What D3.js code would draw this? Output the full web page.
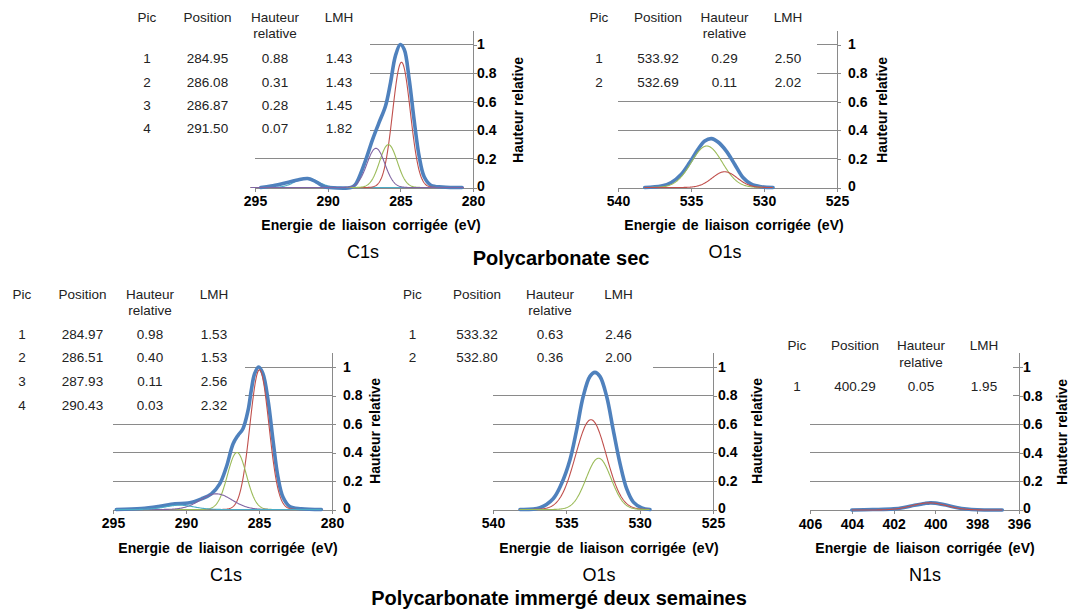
<!DOCTYPE html>
<html><head><meta charset="utf-8">
<script src="https://cdn.jsdelivr.net/npm/d3@7"></script>
<style>
body{margin:0;background:#fff}
svg{display:block}
text{font-family:"Liberation Sans",Arial,Helvetica,sans-serif}
</style>
</head><body>
<svg id="chart" width="1072" height="612"></svg>
<script>
// ---------------- DATA ----------------
const tableHeader = ["Pic", "Position", "Hauteur", "relative", "LMH"];
const yTickValues = [0, 0.2, 0.4, 0.6, 0.8, 1];
const xTicksC1s = [295, 290, 285, 280];
const xTicksO1s = [540, 535, 530, 525];
const xTicksN1s = [406, 404, 402, 400, 398, 396];
const axisTitle = "Energie de liaison  corrigée (eV)";
const yAxisTitle = "Hauteur relative";
const groupTitles = ["Polycarbonate sec", "Polycarbonate immergé deux semaines"];
const panelLabels = ["C1s", "O1s", "C1s", "O1s", "N1s"];

// Peak tables (as printed)
const c1sSecPosition = [284.95, 286.08, 286.87, 291.50];
const c1sSecHeight   = [0.88, 0.31, 0.28, 0.07];
const c1sSecFwhm     = [1.43, 1.43, 1.45, 1.82];
// peak centres / heights as plotted in the C1s (sec) graph
const c1sSecPlotCentre = [284.92, 285.82, 286.68, 291.45];
const c1sSecPlotHeight = [0.876, 0.30, 0.274, 0.068];

const o1sSecPosition = [533.92, 532.69];
const o1sSecHeight   = [0.29, 0.11];
const o1sSecFwhm     = [2.50, 2.02];

const c1sImmPosition = [284.97, 286.51, 287.93, 290.43];
const c1sImmHeight   = [0.98, 0.40, 0.11, 0.03];
const c1sImmFwhm     = [1.53, 1.53, 2.56, 2.32];

const o1sImmPosition = [533.32, 532.80];
const o1sImmHeight   = [0.63, 0.36];
const o1sImmFwhm     = [2.46, 2.00];

const n1sImmPosition = [400.29];
const n1sImmHeight   = [0.05];
const n1sImmFwhm     = [1.95];

const c1sSecSpectrum = [[294.6,0],[293.9,0.01],[293.07,0.028],[292.16,0.05],[291.37,0.063],[290.8,0.04],[290.23,0.005],[289.9,0],[288.4,0],[288.1,0.02],[287.84,0.07],[287.39,0.19],[286.93,0.33],[286.48,0.45],[286.02,0.57],[285.68,0.73],[285.34,0.92],[285.0,1.0],[284.73,0.965],[284.39,0.755],[284.05,0.47],[283.7,0.215],[283.36,0.075],[282.9,0.016],[282.1,0.004],[280.75,0]];
const o1sSecSpectrum = [[538.17,0],[537.03,0.01],[536.35,0.035],[535.66,0.093],[535.09,0.174],[534.52,0.267],[534.06,0.325],[533.6,0.342],[533.15,0.318],[532.58,0.255],[532.01,0.163],[531.44,0.07],[530.87,0.023],[530.18,0.005],[529.38,0]];
const c1sImmSpectrum = [[294.77,0],[293.06,0.007],[291.9,0.021],[290.76,0.04],[289.85,0.045],[288.94,0.075],[288.26,0.11],[287.69,0.18],[287.23,0.30],[286.78,0.46],[286.44,0.52],[286.1,0.567],[285.75,0.695],[285.53,0.836],[285.3,0.953],[285.02,1.0],[284.73,0.953],[284.38,0.766],[284.04,0.485],[283.7,0.227],[283.36,0.087],[282.9,0.021],[282.1,0.005],[280.73,0]];
const o1sImmSpectrum = [[538.16,0],[536.8,0.012],[535.9,0.075],[535.33,0.18],[534.76,0.345],[534.3,0.557],[533.85,0.793],[533.39,0.934],[533.05,0.962],[532.71,0.934],[532.25,0.793],[531.8,0.557],[531.34,0.322],[530.89,0.146],[530.43,0.052],[529.86,0.012],[529.3,0]];
const n1sImmSpectrum = [[404,0],[403,0.003],[402,0.008],[401.5,0.018],[401,0.033],[400.5,0.046],[400.25,0.05],[400,0.048],[399.5,0.035],[399,0.018],[398.5,0.007],[398,0.002],[397,0],[396.8,0]];

// ---------------- STYLE / LAYOUT ----------------
const C = {blue:"#4F81BD", red:"#C0504D", green:"#9BBB59", purple:"#8064A2", cyan:"#4BACC6", grid:"#8a8a8a", text:"#222"};

const panels = [
  {pos:c1sSecPosition, h:c1sSecHeight, w:c1sSecFwhm, centre:c1sSecPlotCentre, height:c1sSecPlotHeight, spec:c1sSecSpectrum,
   colors:[C.red,C.green,C.purple,C.cyan], under:[3], compRange:[295.3,280.6], domain:[295,280], ticks:xTicksC1s,
   x0:255, x1:473, y0:187.5, y1:44.5, labelPad:0, boxR:370, boxB:145,
   cols:[147,207.5,275,339], hy:17, ry:33, rows:[58,82,105,128],
   titleX:371, titleY:225, yTitleX:518, yTitleY:110, lab:[363,252]},
  {pos:o1sSecPosition, h:o1sSecHeight, w:o1sSecFwhm, centre:o1sSecPosition, height:o1sSecHeight, spec:o1sSecSpectrum,
   colors:[C.green,C.red], under:[], compRange:[538.2,529.4], domain:[540,525], ticks:xTicksO1s,
   x0:618, x1:837, y0:187.5, y1:44.5, labelPad:7, boxR:817, boxB:90,
   cols:[599,658,724.5,788], hy:17, ry:33, rows:[58,82],
   titleX:734, titleY:225, yTitleX:882, yTitleY:110, lab:[725,252]},
  {pos:c1sImmPosition, h:c1sImmHeight, w:c1sImmFwhm, centre:c1sImmPosition, height:c1sImmHeight, spec:c1sImmSpectrum,
   colors:[C.red,C.green,C.purple,C.cyan], under:[], compRange:[294.8,280.7], domain:[295,280], ticks:xTicksC1s,
   x0:113, x1:332, y0:509.5, y1:367, labelPad:7, boxR:245, boxB:415,
   cols:[22,82.5,150,214], hy:294, ry:310, rows:[334,357.5,381,405],
   titleX:228, titleY:548, yTitleX:375, yTitleY:431, lab:[226,575]},
  {pos:o1sImmPosition, h:o1sImmHeight, w:o1sImmFwhm, centre:o1sImmPosition, height:o1sImmHeight, spec:o1sImmSpectrum,
   colors:[C.red,C.green], under:[], compRange:[538.2,529.3], domain:[540,525], ticks:xTicksO1s,
   x0:493, x1:713, y0:509.5, y1:367, labelPad:1, boxR:653, boxB:385,
   cols:[412.5,477,550,618.5], hy:294, ry:310, rows:[334,357.5],
   titleX:609, titleY:548, yTitleX:757, yTitleY:431, lab:[599,575]},
  {pos:n1sImmPosition, h:n1sImmHeight, w:n1sImmFwhm, centre:n1sImmPosition, height:n1sImmHeight, spec:n1sImmSpectrum,
   colors:[C.red], under:[], compRange:[404,396.8], domain:[406,396], ticks:xTicksN1s,
   x0:810, x1:1019, y0:510, y1:367, labelPad:0, boxR:1013, boxB:410,
   cols:[797,855,921,984], hy:345, ry:362, rows:[386],
   titleX:925, titleY:548, yTitleX:1062, yTitleY:432, lab:[925,575]}
];

const svg = d3.select("#chart");

function gaussian(c, h, fwhm) {
  const s = fwhm / 2.3548;
  return e => h * Math.exp(-((e - c) * (e - c)) / (2 * s * s));
}

function drawPanel(p) {
  const g = svg.append("g");
  const x = d3.scaleLinear().domain(p.domain).range([p.x0, p.x1]);
  const y = d3.scaleLinear().domain([0, 1.1]).range([p.y0, p.y0 - (p.y0 - p.y1) * 1.1]);

  // gridlines (hidden behind the peak table on the upper left)
  yTickValues.filter(v => v > 0).forEach(v => {
    const yy = y(v);
    const xs = yy < p.boxB ? p.boxR : p.x0;
    g.append("line").attr("x1", xs).attr("x2", p.x1).attr("y1", yy).attr("y2", yy)
      .attr("stroke", C.grid).attr("stroke-width", 1).attr("shape-rendering", "crispEdges");
  });

  // x axis
  const xa = g.append("g").attr("transform", `translate(0,${p.y0})`)
    .call(d3.axisBottom(x).tickValues(p.ticks).tickSize(4).tickSizeOuter(0).tickPadding(5).tickFormat(d3.format("d")));
  xa.select(".domain").attr("stroke", C.grid).attr("shape-rendering", "crispEdges");
  xa.selectAll(".tick line").attr("stroke", C.grid).attr("shape-rendering", "crispEdges");
  xa.selectAll("text").attr("font-size", 14).attr("font-weight", "bold").attr("fill", "#000")
    .attr("font-family", '"Liberation Sans",Arial,sans-serif');

  // y axis (right)
  const ya = g.append("g").attr("transform", `translate(${p.x1},0)`)
    .call(d3.axisRight(y).tickValues(yTickValues).tickSize(4).tickSizeOuter(0).tickPadding(p.labelPad).tickFormat(d3.format("")));
  ya.select(".domain").attr("stroke", C.grid).attr("shape-rendering", "crispEdges");
  ya.selectAll(".tick line").attr("stroke", C.grid).attr("shape-rendering", "crispEdges");
  ya.selectAll("text").attr("font-size", 14).attr("font-weight", "bold").attr("fill", "#000")
    .attr("font-family", '"Liberation Sans",Arial,sans-serif');
  ya.selectAll(".tick").filter(d => d === 0).select("text").attr("dy", "0.2em");

  // components & envelope
  const lineGen = d3.line().x(d => x(d[0])).y(d => y(d[1]));
  const energies = d3.range(p.compRange[0], p.compRange[1] - 0.001, -0.04);
  const comps = p.centre.map((c, i) => {
    const f = gaussian(c, p.height[i], p.w[i]);
    return energies.map(e => [e, f(e)]);
  });
  comps.forEach((pts, i) => {
    if (p.under.includes(i)) g.append("path").attr("d", lineGen(pts)).attr("fill", "none")
      .attr("stroke", p.colors[i]).attr("stroke-width", 1.1);
  });
  g.append("path").attr("d", lineGen.curve(d3.curveCatmullRom.alpha(0.5))(p.spec))
    .attr("fill", "none").attr("stroke", C.blue).attr("stroke-width", 3.6)
    .attr("stroke-linejoin", "round").attr("stroke-linecap", "round");
  lineGen.curve(d3.curveLinear);
  comps.forEach((pts, i) => {
    if (!p.under.includes(i)) g.append("path").attr("d", lineGen(pts)).attr("fill", "none")
      .attr("stroke", p.colors[i]).attr("stroke-width", 1.1);
  });

  // peak table
  const t = g.append("g").attr("fill", C.text).attr("font-size", 13.5).attr("text-anchor", "middle");
  const head = [[tableHeader[0], p.cols[0], p.hy], [tableHeader[1], p.cols[1], p.hy],
                [tableHeader[2], p.cols[2], p.hy], [tableHeader[3], p.cols[2], p.ry], [tableHeader[4], p.cols[3], p.hy]];
  t.selectAll("text.h").data(head).join("text").attr("class", "h")
    .attr("x", d => d[1]).attr("y", d => d[2]).attr("dy", "0.35em").text(d => d[0]);
  p.rows.forEach((ry, i) => {
    const vals = [String(i + 1), p.pos[i].toFixed(2), p.h[i].toFixed(2), p.w[i].toFixed(2)];
    vals.forEach((v, j) => t.append("text").attr("x", p.cols[j]).attr("y", ry).attr("dy", "0.35em").text(v));
  });

  // axis titles
  g.append("text").attr("x", p.titleX).attr("y", p.titleY).attr("dy", "0.35em")
    .attr("text-anchor", "middle").attr("font-size", 14).attr("font-weight", "bold")
    .attr("word-spacing", 2.5).attr("fill", "#000").text(axisTitle);
  g.append("text").attr("transform", `translate(${p.yTitleX},${p.yTitleY}) rotate(-90)`)
    .attr("dy", "0.35em").attr("text-anchor", "middle").attr("font-size", 14)
    .attr("font-weight", "bold").attr("fill", "#000").text(yAxisTitle);
}

panels.forEach(drawPanel);

// panel labels
panels.forEach((p, i) => {
  svg.append("text").attr("x", p.lab[0]).attr("y", p.lab[1]).attr("dy", "0.35em")
    .attr("text-anchor", "middle").attr("font-size", 18).attr("fill", "#000").text(panelLabels[i]);
});

// group titles
svg.append("text").attr("x", 561).attr("y", 258).attr("dy", "0.35em").attr("text-anchor", "middle")
  .attr("font-size", 20).attr("font-weight", "bold").attr("fill", "#000").text(groupTitles[0]);
svg.append("text").attr("x", 559).attr("y", 598).attr("dy", "0.35em").attr("text-anchor", "middle")
  .attr("font-size", 20).attr("font-weight", "bold").attr("fill", "#000").text(groupTitles[1]);
</script>
</body></html>
